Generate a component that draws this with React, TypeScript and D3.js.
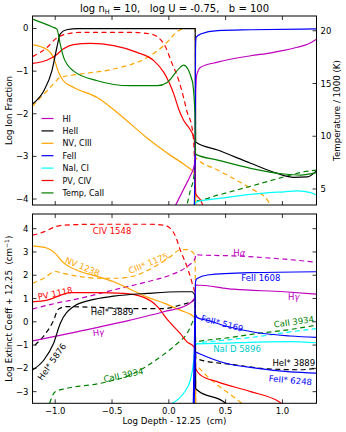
import React from 'react';
import * as d3 from 'd3';

type Pt = [number, number];

// ---- top panel: log ion fraction vs log depth ----
const hI: Pt[] = [[0.04, -4.25], [0.13, -3.77], [0.19, -3.45], [0.225, -3.2], [0.232, -3.0], [0.236, -1.6], [0.245, -1.1], [0.28, -0.91], [0.43, -0.79], [0.72, -0.64], [0.9, -0.57], [1.0, -0.52], [1.13, -0.44], [1.22, -0.37], [1.3, -0.25]];
const heII: Pt[] = [[-1.2, -1.77], [-1.1, -1.46], [-1.03, -1.0], [-0.985, -0.44], [-0.957, -0.13], [-0.9, -0.03], [-0.8, -0.005], [0.232, -0.005], [0.236, -2.66], [0.43, -2.85], [0.72, -3.16], [0.955, -3.4], [1.1, -3.49], [1.22, -3.48], [1.3, -3.34]];
const nV: Pt[] = [[-1.2, -0.38], [-1.07, -0.5], [-1.015, -0.68], [-0.97, -1.03], [-0.93, -1.22], [-0.84, -1.38], [-0.63, -1.62], [-0.45, -1.98], [-0.2, -2.55], [0.0, -2.95], [0.15, -3.22], [0.225, -3.4], [0.233, -3.6], [0.237, -4.4]];
const cIII: Pt[] = [[-1.2, -1.82], [-1.1, -1.54], [-1.015, -1.3], [-0.957, -1.15], [-0.78, -1.07], [-0.485, -0.95], [-0.19, -0.68], [-0.044, -0.4], [0.088, -0.05], [0.13, 0], [0.232, 0], [0.236, -3.03], [0.43, -3.32], [0.72, -3.75], [0.87, -4.03], [0.93, -4.3]];
const feII: Pt[] = [[0.222, -4.3], [0.232, -3.0], [0.235, -0.5], [0.24, -0.21], [0.28, -0.13], [0.43, -0.05], [0.72, -0.03], [1.3, -0.01]];
const naI: Pt[] = [[0.222, -4.3], [0.234, -4.1], [0.25, -4.06], [0.43, -3.99], [0.72, -3.89], [1.015, -3.83], [1.13, -3.81], [1.25, -3.85], [1.3, -3.91]];
const pV: Pt[] = [[-1.2, -0.82], [-1.07, -0.74], [-1.0, -0.64], [-0.93, -0.48], [-0.84, -0.38], [-0.69, -0.35], [-0.485, -0.4], [-0.28, -0.56], [-0.13, -0.76], [-0.044, -1.03], [0.044, -1.54], [0.088, -1.9], [0.13, -2.15], [0.19, -2.38], [0.22, -2.55], [0.232, -2.9], [0.236, -3.87], [0.28, -4.03], [0.32, -4.3]];
const cIV: Pt[] = [[-1.2, -0.66], [-1.07, -0.44], [-1.0, -0.25], [-0.93, -0.15], [-0.78, -0.09], [-0.34, -0.09], [-0.16, -0.13], [-0.044, -0.36], [0.03, -0.83], [0.088, -1.22], [0.13, -1.62], [0.16, -1.95], [0.206, -2.35], [0.225, -3.0], [0.232, -4.3]];
const caII: Pt[] = [[0.147, -4.3], [0.19, -3.79], [0.22, -3.48], [0.231, -3.1], [0.236, -4.04], [0.43, -3.91], [0.72, -3.7], [1.015, -3.48], [1.19, -3.36], [1.3, -3.32]];
// temperature in thousands of K (right axis)
const temp: Pt[] = [[-1.2, 21.1], [-1.03, 20.38], [-0.985, 20.16], [-0.956, 18.74], [-0.926, 17.48], [-0.84, 16.2], [-0.63, 15.26], [-0.34, 14.79], [-0.1, 14.79], [-0.014, 15.1], [0.1, 16.53], [0.13, 16.75], [0.206, 15.26], [0.23, 12.1], [0.234, 8.5], [0.24, 8.28], [0.43, 7.74], [0.72, 6.96], [1.015, 6.42], [1.16, 6.32], [1.3, 6.55]];

// ---- bottom panel: log extinction coefficient + 12.25 ----
const civ1548: Pt[] = [[-1.2, 3.72], [-1.1, 3.86], [-1.0, 4.08], [-0.93, 4.15], [-0.63, 4.19], [-0.19, 4.19], [-0.044, 4.15], [0.015, 4.0], [0.06, 3.66], [0.1, 3.09], [0.16, 2.37], [0.206, 1.65], [0.232, 1.1], [0.236, -3.7]];
const nv1238: Pt[] = [[-1.2, 3.26], [-1.07, 3.16], [-1.0, 2.94], [-0.93, 2.55], [-0.78, 2.16], [-0.63, 1.95], [-0.485, 1.72], [-0.34, 1.4], [-0.19, 1.06], [-0.03, 0.78], [0.1, 0.5], [0.22, 0.22], [0.232, 0.1], [0.236, -3.7]];
const ciii1175: Pt[] = [[-1.2, 1.65], [-1.1, 1.87], [-1.0, 2.16], [-0.93, 2.08], [-0.78, 1.94], [-0.63, 1.87], [-0.455, 1.87], [-0.28, 2.01], [-0.1, 2.44], [0.015, 2.8], [0.1, 3.09], [0.16, 3.1], [0.22, 2.94], [0.232, 2.5], [0.236, -1.8], [0.28, -2.05], [0.4, -2.6], [0.55, -3.15], [0.67, -3.6]];
const hAlpha: Pt[] = [[-1.2, 0.55], [-1.0, 0.79], [-0.78, 1.01], [-0.485, 1.37], [-0.19, 1.72], [0.015, 2.01], [0.16, 2.37], [0.232, 2.73], [0.236, 2.9], [0.265, 2.87], [0.57, 2.83], [1.015, 2.69], [1.3, 2.56]];
const hGamma: Pt[] = [[-1.2, -0.82], [-0.8, -0.42], [-0.34, 0.07], [-0.044, 0.43], [0.16, 0.72], [0.232, 1.05], [0.236, 1.58], [0.57, 1.4], [1.015, 1.29], [1.3, 1.19]];
const pv1118: Pt[] = [[-1.2, 0.86], [-1.07, 0.93], [-0.985, 1.08], [-0.87, 1.25], [-0.63, 1.25], [-0.4, 1.22], [-0.22, 1.05], [-0.1, 0.65], [-0.014, 0.1], [0.1, -0.5], [0.16, -0.86], [0.22, -1.07], [0.232, -1.3], [0.236, -2.0], [0.28, -2.29], [0.43, -2.58], [0.72, -3.0], [0.97, -3.43], [1.02, -3.6]];
const hei3889: Pt[] = [[-1.18, -1.0], [-1.1, -0.6], [-1.02, 0.0], [-0.97, 0.55], [-0.9, 0.65], [-0.63, 0.62], [-0.34, 0.57], [-0.044, 0.57], [0.1, 0.72], [0.22, 0.93], [0.232, 1.0], [0.236, -1.55], [0.265, -1.62], [0.57, -1.84], [0.87, -2.02], [1.15, -2.06], [1.3, -2.0]];
const hei5876: Pt[] = [[-1.2, -2.07], [-1.1, -1.64], [-1.015, -0.93], [-0.956, -0.07], [-0.84, 0.65], [-0.69, 0.93], [-0.485, 1.1], [-0.19, 1.22], [0.1, 1.29], [0.2, 1.29], [0.232, 1.1], [0.236, -2.85], [0.25, -2.93], [0.5, -3.5], [0.52, -3.6]];
const feii1608: Pt[] = [[0.215, -3.6], [0.225, -1.0], [0.232, 1.2], [0.236, 1.75], [0.25, 1.86], [0.34, 2.01], [0.72, 2.11], [1.3, 2.15]];
const feii5169: Pt[] = [[0.218, -3.6], [0.232, -0.5], [0.236, 0.3], [0.25, 0.18], [0.35, 0.05], [0.5, -0.18], [0.78, -0.47], [1.07, -0.61], [1.3, -0.67]];
const feii6248: Pt[] = [[0.222, -3.6], [0.234, -1.6], [0.237, -1.3], [0.265, -1.36], [0.485, -1.76], [0.78, -2.0], [1.07, -2.15], [1.3, -2.2]];
const naiD5896: Pt[] = [[0.03, -3.5], [0.13, -3.07], [0.19, -2.5], [0.22, -1.64], [0.232, -1.0], [0.25, -0.95], [0.485, -0.92], [0.78, -0.87], [1.07, -0.85], [1.3, -0.9]];
const ciLine: Pt[] = [[0.222, -3.6], [0.234, -1.0], [0.25, -0.93], [0.485, -0.79], [0.78, -0.64], [1.07, -0.43], [1.3, -0.29]];
const caii3934: Pt[] = [[-1.05, -3.5], [-1.0, -3.0], [-0.9, -2.86], [-0.6, -2.64], [-0.31, -2.22], [-0.073, -1.5], [0.074, -0.93], [0.16, -0.5], [0.215, 0.07], [0.232, 0.3], [0.236, -0.88], [0.25, -0.86], [0.485, -0.71], [0.78, -0.5], [1.07, -0.33], [1.3, -0.14]];

const depthTicks = [-1.0, -0.5, 0.0, 0.5, 1.0];
const ionTicks = [0, -1, -2, -3, -4];
const tempTicks = [5, 10, 15, 20];
const extTicks = [4, 3, 2, 1, 0, -1, -2, -3];

const legendNames = ['HI', 'HeII', 'NV, CIII', 'FeII', 'NaI, CI', 'PV, CIV', 'Temp, CaII'];

// curve annotations in data coordinates: [text, depth, value, rotation]
const annotations: [string, number, number, number][] = [
  ['CIV 1548', -0.5, 3.9, 0],
  ['NV 1238', -0.76, 2.37, 22],
  ['CIII* 1175', -0.18, 2.51, -22],
  ['PV 1118', -1.0, 1.22, -12],
  ['HeI* 3889', -0.5, 0.43, 0],
  ['Hγ', -0.62, -0.46, -8],
  ['HeI* 5876', -1.03, -1.72, -55],
  ['CaII 3934', -0.4, -2.29, -12],
  ['Hα', 0.62, 2.97, 0],
  ['FeII 1608', 0.81, 1.87, 0],
  ['Hγ', 1.1, 1.05, 0],
  ['FeII* 5169', 0.47, -0.07, 15],
  ['CaII 3934', 1.1, 0.0, -8],
  ['NaI D 5896', 0.6, -1.19, 0],
  ['HeI* 3889', 1.1, -1.79, 0],
  ['FeII* 6248', 1.07, -2.51, 5],
];
const annotationColors = ['#ff0000', '#ffa500', '#ffa500', '#ff0000', '#000000', '#bf00bf', '#000000', '#008000', '#bf00bf', '#0000ff', '#bf00bf', '#0000ff', '#008000', '#00cccc', '#000000', '#0000ff'];

const W = 346;
const H = 432;
const L = 32.5;
const R = 316.5;
const top1 = 16;
const bot1 = 205;
const top2 = 214;
const bot2 = 403.3;
const FONT = 'DejaVu Sans, sans-serif';
const DASH = '5,3.5';

const x = d3.scaleLinear().domain([-1.2, 1.3]).range([L, R]);
const yIon = d3.scaleLinear().domain([-4.14, 0.293]).range([bot1, top1]);
const yTemp = d3.scaleLinear().domain([3.48, 21.4]).range([bot1, top1]);
const yExt = d3.scaleLinear().domain([-3.5, 4.63]).range([bot2, top2]);

const minus = (v: number, digits = 0) => d3.format(`.${digits}f`)(v).replace('-', '\u2212');

export default function App() {
  const lineIon = d3.line<Pt>().x(d => x(d[0])).y(d => yIon(d[1])).curve(d3.curveMonotoneX);
  const lineTemp = d3.line<Pt>().x(d => x(d[0])).y(d => yTemp(d[1])).curve(d3.curveMonotoneX);
  const lineExt = d3.line<Pt>().x(d => x(d[0])).y(d => yExt(d[1])).curve(d3.curveMonotoneX);

  const topSeries = [
    { d: cIII, c: '#ffa500', dash: true },
    { d: cIV, c: '#ff0000', dash: true },
    { d: caII, c: '#008000', dash: true },
    { d: nV, c: '#ffa500' },
    { d: pV, c: '#ff0000' },
    { d: naI, c: '#00ffff' },
    { d: hI, c: '#bf00bf' },
    { d: heII, c: '#000000' },
    { d: feII, c: '#0000ff' },
  ];
  const botSeries = [
    { d: civ1548, c: '#ff0000', dash: true },
    { d: ciii1175, c: '#ffa500', dash: true },
    { d: hAlpha, c: '#bf00bf', dash: true },
    { d: hei3889, c: '#000000', dash: true },
    { d: caii3934, c: '#008000', dash: true },
    { d: ciLine, c: '#00ffff', dash: true },
    { d: nv1238, c: '#ffa500' },
    { d: pv1118, c: '#ff0000' },
    { d: hGamma, c: '#bf00bf' },
    { d: naiD5896, c: '#00ffff' },
    { d: hei5876, c: '#000000' },
    { d: feii5169, c: '#0000ff' },
    { d: feii6248, c: '#0000ff' },
    { d: feii1608, c: '#0000ff' },
  ];
  const legendColors = ['#bf00bf', '#000000', '#ffa500', '#0000ff', '#00ffff', '#ff0000', '#008000'];

  const tickLen = 4;
  const fs = 8.5;

  const xTicks = (yTop: number, yBot: number, labels: boolean) =>
    depthTicks.map(t => (
      <g key={`xt${yTop}${t}`}>
        <line x1={x(t)} x2={x(t)} y1={yBot} y2={yBot - tickLen} stroke="#000" strokeWidth={0.8} />
        <line x1={x(t)} x2={x(t)} y1={yTop} y2={yTop + tickLen} stroke="#000" strokeWidth={0.8} />
        {labels && (
          <text x={x(t)} y={yBot + 11} textAnchor="middle" fontSize={fs}>{minus(t, 1)}</text>
        )}
      </g>
    ));

  return (
    <svg width={W} height={H} style={{ position: 'absolute', left: 0, top: 0, background: '#fff' }} fontFamily={FONT}>
      <defs>
        <clipPath id="c1"><rect x={L} y={top1} width={R - L} height={bot1 - top1} /></clipPath>
        <clipPath id="c2"><rect x={L} y={top2} width={R - L} height={bot2 - top2} /></clipPath>
      </defs>
      <rect width={W} height={H} fill="#fff" />

      {/* title */}
      <text x={(L + R) / 2} y={11.5} textAnchor="middle" fontSize={10} style={{ whiteSpace: 'pre' }}>
        log n<tspan fontSize={6.5} dy={2}>H</tspan><tspan dy={-2}>{' = 10,   log U = -0.75,   b = 100'}</tspan>
      </text>

      {/* top panel curves */}
      <g clipPath="url(#c1)" fill="none" strokeWidth={1.2}>
        {topSeries.map((s, i) => (
          <path key={i} d={lineIon(s.d) || ''} stroke={s.c} strokeDasharray={s.dash ? DASH : undefined} />
        ))}
        <path d={lineTemp(temp) || ''} stroke="#008000" />
      </g>

      {/* legend */}
      {legendNames.map((n, i) => (
        <g key={n}>
          <line x1={41.5} x2={53.5} y1={118.5 + i * 12.4} y2={118.5 + i * 12.4} stroke={legendColors[i]} strokeWidth={1.2} />
          <text x={62.5} y={118.5 + i * 12.4 + 3} fontSize={8}>{n}</text>
        </g>
      ))}

      {/* top panel frame & ticks */}
      <rect x={L} y={top1} width={R - L} height={bot1 - top1} fill="none" stroke="#000" strokeWidth={1} />
      {xTicks(top1, bot1, false)}
      {ionTicks.map(t => (
        <g key={`it${t}`}>
          <line x1={L} x2={L + tickLen} y1={yIon(t)} y2={yIon(t)} stroke="#000" strokeWidth={0.8} />
          <text x={L - 4} y={yIon(t) + 3} textAnchor="end" fontSize={fs}>{minus(t)}</text>
        </g>
      ))}
      {tempTicks.map(t => (
        <g key={`tt${t}`}>
          <line x1={R} x2={R - tickLen} y1={yTemp(t)} y2={yTemp(t)} stroke="#000" strokeWidth={0.8} />
          <text x={R + 4} y={yTemp(t) + 3} fontSize={fs}>{t}</text>
        </g>
      ))}
      <text transform={`translate(12,${(top1 + bot1) / 2}) rotate(-90)`} textAnchor="middle" fontSize={8.7}>Log Ion Fraction</text>
      <text transform={`translate(340,${(top1 + bot1) / 2}) rotate(-90)`} textAnchor="middle" fontSize={8.7}>Temperature / 1000 (K)</text>

      {/* bottom panel curves */}
      <g clipPath="url(#c2)" fill="none" strokeWidth={1.2}>
        {botSeries.map((s, i) => (
          <path key={i} d={lineExt(s.d) || ''} stroke={s.c} strokeDasharray={s.dash ? DASH : undefined} />
        ))}
      </g>
      {annotations.map(([t, ax, ay, rot], i) => {
        const greek = t.startsWith('H') && t.length === 2;
        return (
          <text key={i} transform={`translate(${x(ax)},${yExt(ay)}) rotate(${rot})`} textAnchor="middle" dy="0.35em" fontSize={fs} fill={annotationColors[i]}>
            {greek ? (<>H<tspan fontStyle="italic">{t.slice(1)}</tspan></>) : t}
          </text>
        );
      })}

      {/* bottom panel frame & ticks */}
      <rect x={L} y={top2} width={R - L} height={bot2 - top2} fill="none" stroke="#000" strokeWidth={1} />
      {xTicks(top2, bot2, true)}
      {extTicks.map(t => (
        <g key={`et${t}`}>
          <line x1={L} x2={L + tickLen} y1={yExt(t)} y2={yExt(t)} stroke="#000" strokeWidth={0.8} />
          <line x1={R} x2={R - tickLen} y1={yExt(t)} y2={yExt(t)} stroke="#000" strokeWidth={0.8} />
          <text x={L - 4} y={yExt(t) + 3} textAnchor="end" fontSize={fs}>{minus(t)}</text>
        </g>
      ))}
      <text transform={`translate(12,${(top2 + bot2) / 2}) rotate(-90)`} textAnchor="middle" fontSize={8.7} style={{ whiteSpace: 'pre' }}>
        {'Log Extinct Coeff + 12.25  (cm'}<tspan fontSize={6} dy={-3.5}>{'\u22121'}</tspan><tspan dy={3.5}>)</tspan>
      </text>
      <text x={(L + R) / 2} y={424} textAnchor="middle" fontSize={8.7} style={{ whiteSpace: 'pre' }}>Log Depth - 12.25  (cm)</text>
    </svg>
  );
}
